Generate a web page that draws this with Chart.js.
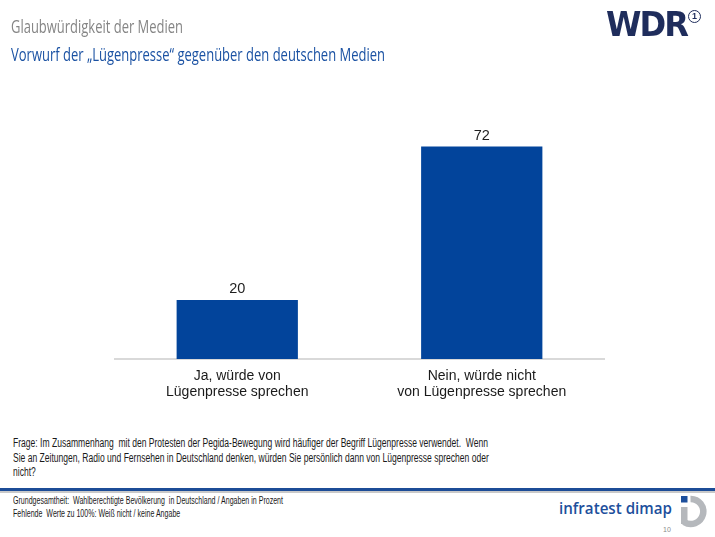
<!DOCTYPE html>
<html lang="de">
<head>
<meta charset="utf-8">
<script src="https://cdn.jsdelivr.net/npm/chart.js@4.4.0/dist/chart.umd.min.js"></script>
<style>
  body { margin: 0; background: #fff; }
  #page { position: relative; width: 715px; height: 537px; overflow: hidden; background: #fff; }
  .txt { position: absolute; white-space: pre; transform-origin: left top; }
  #title { left: 11px; top: 17px; font: 18.5px "Open Sans", sans-serif; line-height: 18.5px; color: #858585; }
  #subtitle { left: 11px; top: 45px; font: 19px "Open Sans", sans-serif; line-height: 19px; color: #1b52a3; }
  #wdr { left: 606px; top: 8px; font: bold 33px "DejaVu Sans", sans-serif; line-height: 33px; color: #1f2d5c; letter-spacing: -2px; }
  #ard { position: absolute; left: 688px; top: 10px; width: 11px; height: 11px; border: 1.5px solid #1f2d5c; border-radius: 50%;
         font: bold 9px "Liberation Sans", Arial, sans-serif; line-height: 11px; text-align: center; color: #1f2d5c; }
  #question { left: 13px; top: 436px; font: 12px "Liberation Sans Narrow", "Liberation Sans", Arial, sans-serif; line-height: 14.7px; color: #1a1a1a; }
  #rule1 { position: absolute; left: 0; top: 488px; width: 715px; height: 2.5px; background: #1c4c97; }
  #rule2 { position: absolute; left: 0; top: 491px; width: 715px; height: 1.5px; background: #c9c9c9; }
  #footer { left: 13px; top: 494px; font: 10.5px "Liberation Sans Narrow", "Liberation Sans", Arial, sans-serif; line-height: 12.5px; color: #1a1a1a; }
  #infratest { left: 559px; top: 500px; font: 600 16px "Open Sans", sans-serif; line-height: 16px; color: #1d4f9c; }
  #pageno { left: 663px; top: 526px; font: 7px "Liberation Sans", Arial, sans-serif; line-height: 7px; color: #8a8a8a; }
  #logo { position: absolute; left: 678px; top: 494px; }
  #chartBox { position: absolute; left: 0; top: 0; width: 715px; height: 420px; }
</style>
</head>
<body>
<div id="page">
  <div id="chartBox"><canvas id="chart" width="715" height="420"></canvas></div>
  <div class="txt" id="title">Glaubwürdigkeit der Medien</div>
  <div class="txt" id="subtitle">Vorwurf der „Lügenpresse“ gegenüber den deutschen Medien</div>
  <div class="txt" id="wdr">WDR</div>
  <div id="ard">1</div>
  <div class="txt" id="question">Frage: Im Zusammenhang  mit den Protesten der Pegida-Bewegung wird häufiger der Begriff Lügenpresse verwendet.  Wenn
Sie an Zeitungen, Radio und Fernsehen in Deutschland denken, würden Sie persönlich dann von Lügenpresse sprechen oder
nicht?</div>
  <div id="rule1"></div>
  <div id="rule2"></div>
  <div class="txt" id="footer">Grundgesamtheit:  Wahlberechtigte Bevölkerung  in Deutschland / Angaben in Prozent
Fehlende  Werte zu 100%: Weiß nicht / keine Angabe</div>
  <div class="txt" id="infratest">infratest dimap</div>
  <div class="txt" id="pageno">10</div>
  <svg id="logo" width="34" height="35" viewBox="0 0 34 35">
    <rect x="3" y="2" width="6.5" height="6.5" fill="#1d4f9c"/>
    <path d="M 12.5 5 A 12.5 12.5 0 1 1 6 28" fill="none" stroke="#b5b8bc" stroke-width="6.5"/>
    <rect x="3" y="13" width="6.5" height="17" fill="#b5b8bc"/>
  </svg>
</div>
<script>
const categories = [
  ['Ja, würde von', 'Lügenpresse sprechen'],
  ['Nein, würde nicht', 'von Lügenpresse sprechen']
];
const values = [20, 72];
const yMax = 100;

// squeeze text blocks to the widths measured on the slide
function fitWidth(id, target) {
  const el = document.getElementById(id);
  const w = el.getBoundingClientRect().width;
  el.style.transform = 'scaleX(' + (target / w) + ')';
}
function fitBlock(id, firstLine, target) {
  const el = document.getElementById(id);
  const probe = document.createElement('span');
  probe.style.font = getComputedStyle(el).font;
  probe.style.whiteSpace = 'pre';
  probe.style.position = 'absolute';
  probe.style.visibility = 'hidden';
  probe.textContent = firstLine;
  document.body.appendChild(probe);
  const w = probe.getBoundingClientRect().width;
  probe.remove();
  el.style.transform = 'scaleX(' + (target / w) + ')';
}
fitWidth('title', 172);
fitWidth('subtitle', 374);
fitWidth('wdr', 81);
fitWidth('infratest', 113);
fitBlock('question', 'Frage: Im Zusammenhang  mit den Protesten der Pegida-Bewegung wird häufiger der Begriff Lügenpresse verwendet.  Wenn', 475);
fitBlock('footer', 'Grundgesamtheit:  Wahlberechtigte Bevölkerung  in Deutschland / Angaben in Prozent', 270);

const valueLabels = {
  id: 'valueLabels',
  afterDatasetsDraw(chart) {
    const ctx = chart.ctx;
    chart.getDatasetMeta(0).data.forEach(function (bar, i) {
      ctx.save();
      ctx.font = '14.5px "Liberation Sans", Arial, sans-serif';
      ctx.fillStyle = '#1f1f1f';
      ctx.textAlign = 'center';
      ctx.textBaseline = 'middle';
      ctx.fillText(values[i], bar.x, bar.y - 11);
      ctx.restore();
    });
  }
};

const ctx = document.getElementById('chart').getContext('2d');
new Chart(ctx, {
  type: 'bar',
  data: {
    labels: categories,
    datasets: [{
      data: values,
      backgroundColor: '#02449b',
      borderWidth: 0,
      barPercentage: 0.496,
      categoryPercentage: 1
    }]
  },
  options: {
    responsive: false,
    animation: false,
    layout: { padding: { left: 115, right: 111, top: 64, bottom: 19 } },
    plugins: { legend: { display: false }, tooltip: { enabled: false } },
    scales: {
      x: {
        grid: { display: false, drawTicks: false },
        border: { display: true, color: '#d9d9d9', width: 2 },
        ticks: {
          color: '#1a1a1a',
          padding: 9,
          font: { family: '"Liberation Sans", Arial, sans-serif', size: 14, lineHeight: 1.15 }
        },
        afterFit: function (scale) { scale.height = 42; }
      },
      y: { display: false, min: 0, max: yMax }
    }
  },
  plugins: [valueLabels]
});
</script>
</body>
</html>
